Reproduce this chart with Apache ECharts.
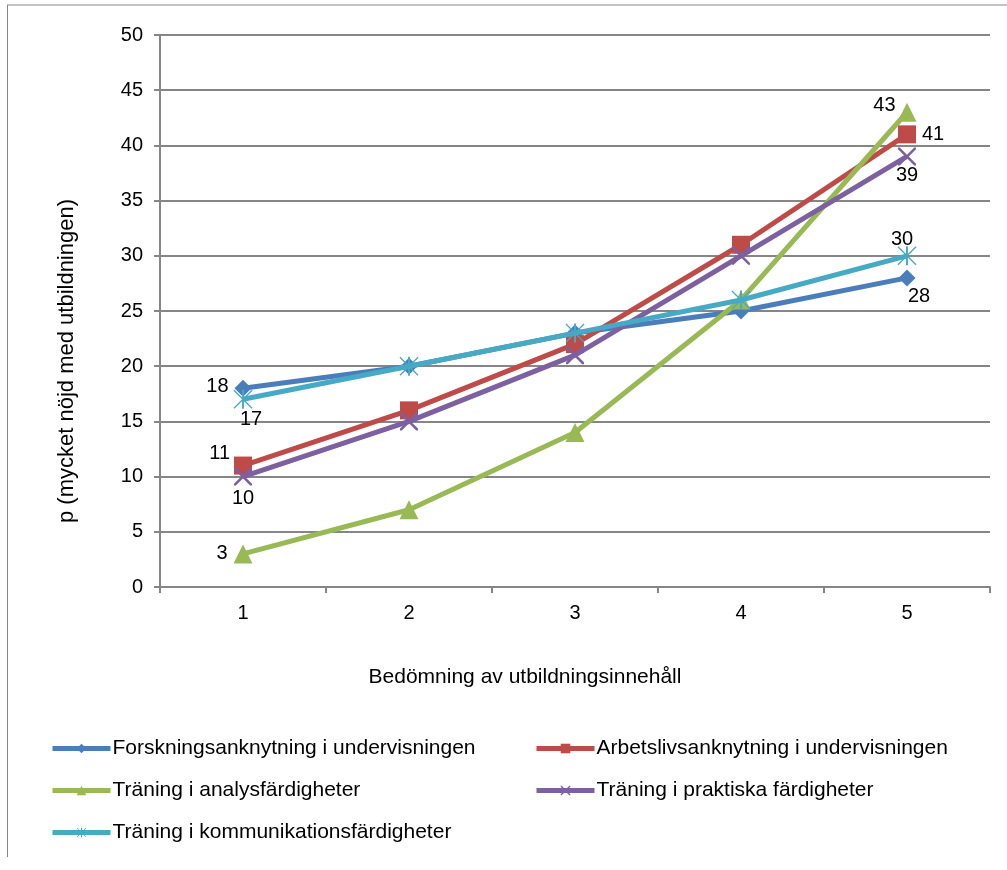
<!DOCTYPE html>
<html>
<head>
<meta charset="utf-8">
<script src="https://cdn.jsdelivr.net/npm/echarts@6/dist/echarts.min.js"></script>
<style>html,body{margin:0;padding:0;background:#fff}#c{width:1007px;height:870px}</style>
</head>
<body>
<div id="c"></div>
<script>
var categories = ['1', '2', '3', '4', '5'];
var seriesNames = [
  'Forskningsanknytning i undervisningen',
  'Arbetslivsanknytning i undervisningen',
  'Träning i analysfärdigheter',
  'Träning i praktiska färdigheter',
  'Träning i kommunikationsfärdigheter'
];
var forskning = [18, 20, 23, 25, 28];
var arbetsliv = [11, 16, 22, 31, 41];
var analys = [3, 7, 14, 26, 43];
var praktiska = [10, 15, 21, 30, 39];
var kommunikation = [17, 20, 23, 26, 30];
var yTicks = [0, 5, 10, 15, 20, 25, 30, 35, 40, 45, 50];

var values = [forskning, arbetsliv, analys, praktiska, kommunikation];
var colors = ['#4A7EBB', '#BE4B48', '#98B954', '#7D60A0', '#46AAC5'];
var FONT = 'Liberation Sans, Arial, sans-serif';
var xPath = 'path://M0,0 L2,0 L10,8 L18,0 L20,0 L20,2 L12,10 L20,18 L20,20 L18,20 L10,12 L2,20 L0,20 L0,18 L8,10 L0,2 Z';
var starPath = 'path://M9,0 L11,0 L11,20 L9,20 Z M1,0 L20,19 L19,20 L0,1 Z M19,0 L20,1 L1,20 L0,19 Z';
var symbols = ['diamond', 'rect', 'triangle', xPath, starPath];
var symbolSizes = [17, 18, 19, 18, 19];
// label placement for first and last point of each series
var labelFirst = [
  {position: 'left', offset: [0, -2]},
  {position: 'left', offset: [2, -12]},
  {position: 'left', offset: [0, 0]},
  {position: 'bottom', offset: [0, -3]},
  {position: 'bottom', offset: [8, -5]}
];
var labelLast = [
  {position: 'bottom', offset: [12, -6]},
  {position: 'right', offset: [0, 0]},
  {position: 'left', offset: [4, -7]},
  {position: 'bottom', offset: [0, -6]},
  {position: 'top', offset: [-5, 9]}
];

var series = values.map(function (arr, i) {
  return {
    name: seriesNames[i],
    type: 'line',
    data: arr.map(function (v, j) {
      var item = {value: v};
      var cfg = j === 0 ? labelFirst[i] : (j === arr.length - 1 ? labelLast[i] : null);
      if (cfg) {
        item.label = {show: true, position: cfg.position, offset: cfg.offset, distance: 6,
          color: '#000', fontSize: 20, fontFamily: FONT};
      }
      return item;
    }),
    symbol: symbols[i],
    symbolSize: symbolSizes[i],
    showAllSymbol: true,
    lineStyle: {width: 5, color: colors[i]},
    itemStyle: {color: colors[i]},
    label: {show: false},
    z: 2 + i
  };
});

var legendPos = [[45, 733], [529, 733], [45, 775], [529, 775], [45, 817]];
var legends = seriesNames.map(function (n, i) {
  return {
    data: [n], left: legendPos[i][0], top: legendPos[i][1],
    itemWidth: 58, itemHeight: 12, itemGap: 0,
    lineStyle: {width: 5},
    textStyle: {fontSize: 21, color: '#000', fontFamily: FONT, padding: [0, 0, 0, -3]},
    selectedMode: false
  };
});

var chart = echarts.init(document.getElementById('c'), null, {renderer: 'canvas'});
chart.setOption({
  animation: false,
  backgroundColor: '#fff',
  textStyle: {fontFamily: FONT},
  color: colors,
  grid: {left: 160, right: 17, top: 35, bottom: 283},
  legend: legends,
  graphic: [
    {type: 'line', shape: {x1: 7, y1: 5, x2: 1007, y2: 5}, style: {stroke: '#868686', lineWidth: 1}},
    {type: 'line', shape: {x1: 7.5, y1: 5, x2: 7.5, y2: 857}, style: {stroke: '#868686', lineWidth: 1}}
  ],
  xAxis: {
    type: 'category',
    data: categories,
    boundaryGap: true,
    name: 'Bedömning av utbildningsinnehåll',
    nameLocation: 'middle',
    nameGap: 80,
    nameTextStyle: {fontSize: 21, color: '#000', fontFamily: FONT, padding: [0, 100, 0, 0]},
    axisLine: {lineStyle: {color: '#868686', width: 2}},
    axisTick: {show: true, length: 6, lineStyle: {color: '#868686', width: 2}},
    axisLabel: {fontSize: 20, color: '#000', margin: 16, fontFamily: FONT}
  },
  yAxis: {
    type: 'value',
    min: yTicks[0],
    max: yTicks[yTicks.length - 1],
    interval: 5,
    name: 'p (mycket nöjd med utbildningen)',
    nameLocation: 'middle',
    nameGap: 82,
    nameTextStyle: {fontSize: 22, color: '#000', fontFamily: FONT, padding: [0, 100, 0, 0]},
    axisLine: {show: true, lineStyle: {color: '#868686', width: 2}},
    axisTick: {show: true, length: 6, lineStyle: {color: '#868686', width: 2}},
    axisLabel: {fontSize: 20, color: '#000', margin: 17, fontFamily: FONT},
    splitLine: {show: true, lineStyle: {color: '#868686', width: 2}}
  },
  series: series
});
</script>
</body>
</html>
